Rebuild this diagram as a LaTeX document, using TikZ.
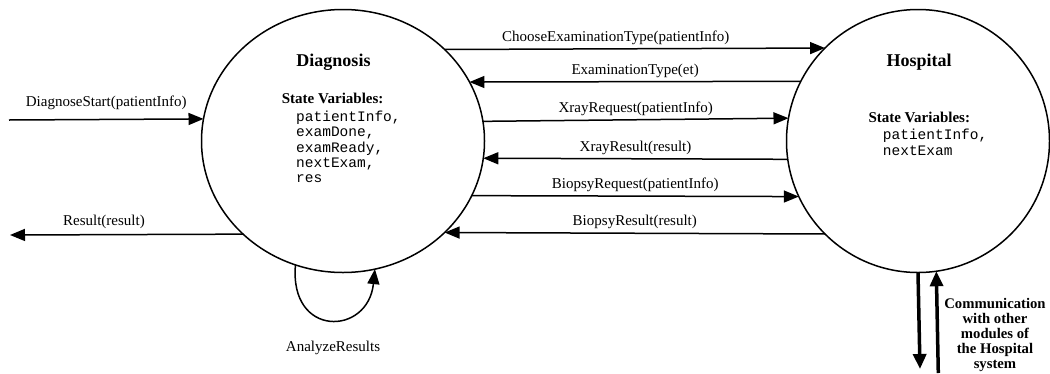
\documentclass[tikz,border=0pt]{standalone}
\usepackage{fontspec}
\setmainfont{Liberation Serif}
\setmonofont{Liberation Mono}
\usetikzlibrary{arrows.meta,shapes.geometric}
\begin{document}
\begin{tikzpicture}[x=1pt,y=-1pt,
  statebox/.style={draw, line width=1.5pt, inner sep=0pt, outer sep=0pt},
  msg/.style={line width=1.5pt, -{Triangle[length=15pt,width=12pt]}},
  lbl/.style={font=\fontsize{15}{17}\selectfont, anchor=base, yshift=7.5pt, inner sep=0pt},
  ext/.style={line width=3.5pt, -{Triangle[length=15pt,width=13pt]}},
  ttl/.style={font=\fontsize{18}{20}\selectfont\bfseries, inner sep=0pt, anchor=base},
  svhead/.style={font=\fontsize{15}{17}\selectfont\bfseries, anchor=base west, inner sep=0pt},
  svlist/.style={font=\fontsize{14.5}{15.2}\selectfont\ttfamily, align=left, anchor=base west, inner sep=0pt},
  comm/.style={font=\fontsize{14.7}{15}\selectfont\bfseries, align=center, anchor=base, inner sep=0pt},
]
\useasboundingbox (0,0) rectangle (1050,373);

% states
\node[statebox, ellipse, minimum width=283pt, minimum height=263pt] (D) at (343,141) {};
\node[statebox, circle, minimum size=263pt] (H) at (918,141) {};

% texts inside (multi-line nodes: base = last line)
\node[ttl] (Dtitle) at (333.5,66.5) {Diagnosis};
\node[svhead] (Dsv) at (281.7,103.3) {State Variables:};
\node[svlist] (Dlist) at (296,182.5) {patientInfo,\\examDone,\\examReady,\\nextExam,\\res};

\node[ttl] (Htitle) at (919,66.5) {Hospital};
\node[svhead] (Hsv) at (868.3,122.7) {State Variables:};
\node[svlist] (Hlist) at (882.7,155) {patientInfo,\\nextExam};

% free ends
\coordinate (dsIn) at (9,120);
\coordinate (resOut) at (10,235);
\coordinate (extDown) at (920,369);
\coordinate (extUp) at (938.3,373);

% external messages
\draw[msg] (dsIn) -- node[lbl, pos=0.5, yshift=5pt] (lDS) {DiagnoseStart(patientInfo)} (D.171.5);
\draw[msg] (D.223.5) -- node[lbl, pos=0.597, yshift=1.5pt] (lRes) {Result(result)} (resOut);

% messages between modules
\draw[msg] (D.42.9) -- node[lbl, pos=0.45] (lCET) {ChooseExaminationType(patientInfo)} (H.135);
\draw[msg] (H.153.3) -- node[lbl] (lET) {ExaminationType(et)} (D.25);
\draw[msg] (D.8.5) -- node[lbl] (lXReq) {XrayRequest(patientInfo)} (H.170.8);
\draw[msg] (H.188.3) -- node[lbl] (lXRes) {XrayResult(result)} (D.-7.7);
\draw[msg] (D.-23.6) -- node[lbl] (lBReq) {BiopsyRequest(patientInfo)} (H.205.2);
\draw[msg] (H.225) -- node[lbl] (lBRes) {BiopsyResult(result)} (D.-42.9);

% self loop
\draw[msg] (D.249.7) .. controls (289,338) and (368,336) .. (D.284);
\node[font=\fontsize{15}{17}\selectfont, anchor=base, inner sep=0pt] (lAR) at (333,351) {AnalyzeResults};

% communication with other modules
\draw[ext] (H.270.9) -- (extDown);
\draw[ext] (extUp) -- (H.278.7);
\node[comm] (lComm) at (995,368.3) {Communication\\with other\\modules of\\the Hospital\\system};
\end{tikzpicture}
\end{document}
